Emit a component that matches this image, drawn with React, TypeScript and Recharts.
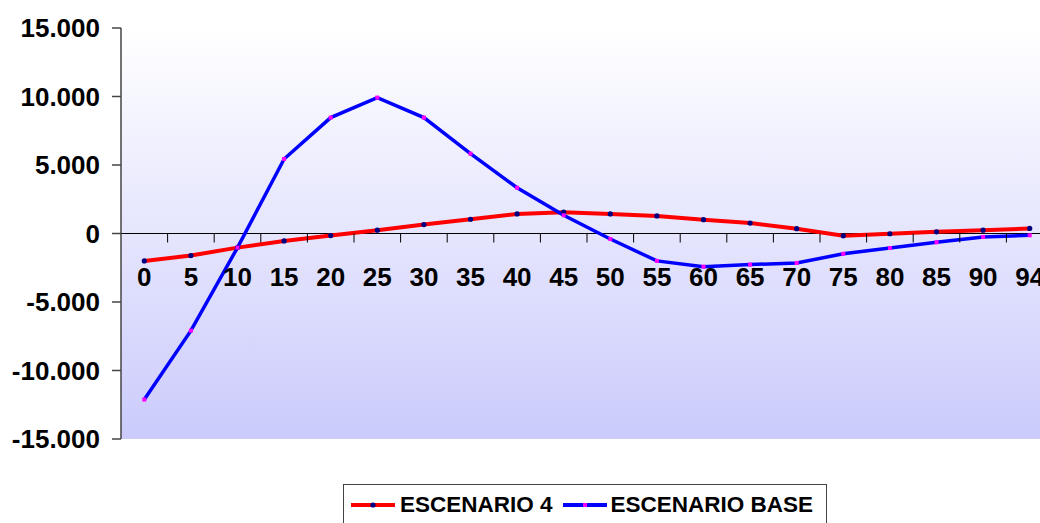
import {
  LineChart,
  Line,
  XAxis,
  YAxis,
  CartesianGrid,
  ReferenceLine,
  Legend,
} from "recharts";

const ages = ["0", "5", "10", "15", "20", "25", "30", "35", "40", "45", "50", "55", "60", "65", "70", "75", "80", "85", "90", "94"];

const escenario4 = [-2000, -1610, -1030, -540, -150, 240, 650, 1040, 1430, 1560, 1430, 1280, 1010, 760, 350, -170, -20, 120, 240, 370];

const escenarioBase = [-12120, -7090, -1030, 5440, 8460, 9920, 8460, 5830, 3340, 1330, -400, -2000, -2420, -2270, -2150, -1480, -1060, -640, -250, -130];

const yTicks = [-15000, -10000, -5000, 0, 5000, 10000, 15000];

const chartData = ages.map((age, i) => ({
  age,
  escenario4: escenario4[i],
  base: escenarioBase[i],
}));

const FONT = "Arial, 'Liberation Sans', Helvetica, sans-serif";
const CHART_W = 1053;
const CHART_H = 523;
const MARGIN = { top: 28, right: 0, bottom: 54, left: 0 };
const X_AXIS_H = 30;
const Y_AXIS_W = 121;
const PLOT_H = CHART_H - MARGIN.top - MARGIN.bottom - X_AXIS_H;
const PLOT_W = CHART_W - MARGIN.left - MARGIN.right - Y_AXIS_W;
const BAND = PLOT_W / ages.length;
// the category axis crosses the value axis at 0, halfway down a symmetric domain
const ZERO_Y = MARGIN.top + PLOT_H / 2;

const formatThousands = (v: number) => {
  const s = Math.abs(v)
    .toString()
    .replace(/\B(?=(\d{3})+(?!\d))/g, ".");
  return v < 0 ? "-" + s : s;
};

const AgeTick = (props: any) => {
  const { x, payload } = props;
  return (
    <g>
      <line x1={x + BAND / 2} y1={ZERO_Y} x2={x + BAND / 2} y2={ZERO_Y + 9} stroke="#000" strokeWidth={1} />
      <text
        x={x}
        y={ZERO_Y + 52}
        textAnchor="middle"
        fontFamily={FONT}
        fontWeight="bold"
        fontSize={26}
        fill="#000"
      >
        {payload.value}
      </text>
    </g>
  );
};

const NavyDot = (props: any) => {
  const { cx, cy, index } = props;
  return <circle key={`e4-${index}`} cx={cx} cy={cy} r={2.6} fill="#000080" />;
};

const MagentaDot = (props: any) => {
  const { cx, cy, index } = props;
  return <rect key={`eb-${index}`} x={cx - 2} y={cy - 2} width={4} height={4} fill="#ff00ff" />;
};

const LegendBox = () => (
  <div
    style={{
      boxSizing: "border-box",
      width: 484,
      height: 42,
      border: "1px solid #444",
      background: "#fff",
      display: "flex",
      alignItems: "center",
      paddingLeft: 7,
      fontFamily: FONT,
      fontWeight: "bold",
      fontSize: 22.5,
      color: "#000",
      whiteSpace: "nowrap",
    }}
  >
    <svg width={44} height={10}>
      <line x1={0} y1={5} x2={44} y2={5} stroke="#ff0000" strokeWidth={4} />
      <circle cx={22} cy={5} r={2.6} fill="#000080" />
    </svg>
    <span style={{ marginLeft: 5 }}>ESCENARIO 4</span>
    <svg width={44} height={10} style={{ marginLeft: 10 }}>
      <line x1={0} y1={5} x2={44} y2={5} stroke="#0000ff" strokeWidth={4} />
      <rect x={20} y={3} width={4} height={4} fill="#ff00ff" />
    </svg>
    <span style={{ marginLeft: 4 }}>ESCENARIO BASE</span>
  </div>
);

export default function App() {
  return (
    <div
      style={{
        position: "absolute",
        left: 0,
        top: 0,
        width: 1040,
        height: 523,
        overflow: "hidden",
        background: "#fff",
      }}
    >
      <LineChart width={CHART_W} height={CHART_H} data={chartData} margin={MARGIN}>
        <defs>
          <linearGradient id="plotBg" x1="0" y1="0" x2="0" y2="1">
            <stop offset="0%" stopColor="#ffffff" />
            <stop offset="100%" stopColor="#cbcbfc" />
          </linearGradient>
        </defs>
        <CartesianGrid horizontal={false} vertical={false} fill="url(#plotBg)" />
        <XAxis
          dataKey="age"
          height={X_AXIS_H}
          axisLine={false}
          tickLine={false}
          interval={0}
          padding={{ left: BAND / 2, right: BAND / 2 }}
          tick={<AgeTick />}
        />
        <YAxis
          width={Y_AXIS_W}
          domain={[-15000, 15000]}
          ticks={yTicks}
          interval={0}
          tickFormatter={formatThousands}
          axisLine={{ stroke: "#444", strokeWidth: 1.5 }}
          tickLine={{ stroke: "#444", strokeWidth: 1.5 }}
          tickSize={9}
          tickMargin={12}
          tick={{ fill: "#000", fontSize: 26, fontWeight: "bold", fontFamily: FONT }}
        />
        <ReferenceLine y={0} stroke="#000" strokeWidth={1} />
        <Line
          type="linear"
          dataKey="escenario4"
          name="ESCENARIO 4"
          stroke="#ff0000"
          strokeWidth={4}
          dot={NavyDot}
          activeDot={false}
          isAnimationActive={false}
        />
        <Line
          type="linear"
          dataKey="base"
          name="ESCENARIO BASE"
          stroke="#0000ff"
          strokeWidth={3.5}
          dot={MagentaDot}
          activeDot={false}
          isAnimationActive={false}
        />
        <Legend
          layout="horizontal"
          verticalAlign="middle"
          align="center"
          content={<LegendBox />}
          wrapperStyle={{ left: 343, top: 484, width: 484 }}
        />
      </LineChart>
    </div>
  );
}
